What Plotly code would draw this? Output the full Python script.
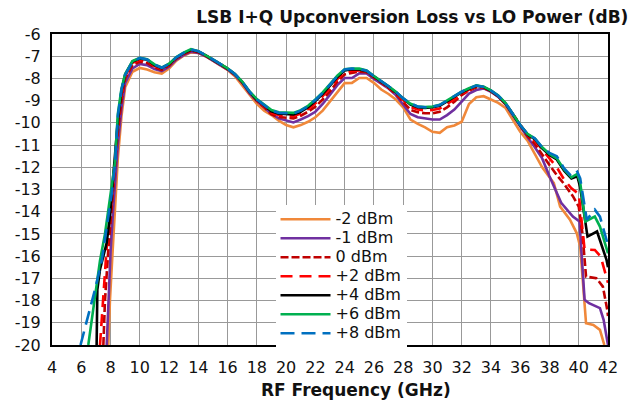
import plotly.graph_objects as go

# shared mid-band frequency grid (GHz)
FREQ_MID = [8.5, 8.75, 9, 9.5, 10, 10.5, 11, 11.5, 12, 12.5, 13, 13.5, 14, 14.5, 15, 15.5, 16,
            16.5, 17, 17.5, 18, 18.5, 19, 19.5, 20, 20.5, 21, 21.5, 22, 22.5, 23, 23.5, 24,
            24.5, 25, 25.5, 26, 26.5, 27, 27.5, 28, 28.5, 29, 29.5, 30, 30.5, 31, 31.5, 32,
            32.5, 33, 33.5, 34, 34.5, 35, 35.5, 36, 36.5, 37]

# -2 dBm
lo_f_m2 = [7.85, 7.96, 8.15, 8.3]
hi_f_m2 = [37.5, 38, 38.3, 38.73, 39.4, 39.86, 40.1, 40.5, 41.0, 41.45, 41.75]
v_m2 = [-20, -18.0, -15.7, -13.8,
        -11.6, -9.7, -8.4, -7.7, -7.53, -7.6, -7.72, -7.78, -7.55, -7.2, -6.98, -6.83, -6.85,
        -7.0, -7.2, -7.4, -7.62, -7.9, -8.3, -8.75, -9.15, -9.45, -9.65, -9.9, -10.1, -10.2,
        -10.1, -9.95, -9.75, -9.45, -9.04, -8.6, -8.21, -8.2, -7.98, -7.98, -8.2, -8.5, -8.7,
        -8.95, -9.3, -9.85, -10.05, -10.2, -10.4, -10.45, -10.2, -10.12, -9.95, -9.15, -8.85,
        -8.8, -8.95, -9.1, -9.33, -9.85, -10.4, -10.8, -11.4,
        -12.0, -12.45, -12.71, -13.77, -14.36, -14.96, -15.57, -19.02, -19.1, -19.32, -20]

# -1 dBm
lo_f_m1 = [7.74, 7.85, 8.01, 8.19, 8.42]
hi_f_m1 = [37.5, 38, 38.8, 39.6, 40.05, 40.4, 40.7, 41.45, 41.7, 42]
v_m1 = [-20, -18.0, -15.7, -13.8, -11.8,
        -11.0, -9.35, -8.2, -7.55, -7.35, -7.4, -7.58, -7.67, -7.47, -7.15, -6.95, -6.8, -6.85,
        -7.0, -7.2, -7.4, -7.6, -7.85, -8.2, -8.67, -9.02, -9.3, -9.6, -9.8, -9.9, -9.98,
        -9.85, -9.7, -9.5, -9.15, -8.73, -8.3, -7.98, -7.98, -7.77, -7.78, -8.02, -8.25, -8.45,
        -8.75, -9.15, -9.6, -9.75, -9.8, -9.85, -9.85, -9.65, -9.4, -9.05, -8.68, -8.52,
        -8.45, -8.6, -8.83, -9.17, -9.68, -10.2, -10.65, -11.1,
        -11.6, -12.4, -13.6, -14.22, -14.44, -17.97, -18.12, -18.34, -18.87, -20]

# 0 dBm
lo_f_0 = [7.51, 7.62, 7.85, 8.08, 8.3]
hi_f_0 = [37.5, 38, 38.5, 39, 39.6, 40.0, 40.25, 40.5, 41.2, 41.65, 41.95, 42]
v_0 = [-20, -18.0, -15.7, -13.9, -12.1,
       -10.4, -9.0, -8.0, -7.4, -7.25, -7.3, -7.5, -7.62, -7.42, -7.1, -6.9, -6.76, -6.82,
       -6.98, -7.18, -7.38, -7.58, -7.83, -8.18, -8.63, -9.0, -9.3, -9.62, -9.74, -9.76, -9.8,
       -9.68, -9.5, -9.27, -8.95, -8.58, -8.15, -7.82, -7.75, -7.69, -7.72, -7.95, -8.18, -8.43,
       -8.7, -9.05, -9.42, -9.52, -9.57, -9.57, -9.5, -9.3, -9.05, -8.75, -8.55, -8.4,
       -8.42, -8.58, -8.81, -9.15, -9.63, -10.15, -10.6, -10.95,
       -11.45, -11.9, -12.35, -12.75, -13.3, -13.77, -14.96, -16.92, -16.99, -17.37, -18.42, -18.7]

# +2 dBm
lo_f_p2 = [7.28, 7.51, 7.74, 8.08, 8.3]
hi_f_p2 = [37.5, 38, 38.5, 39, 39.5, 40.0, 40.4, 41.1, 41.5, 42]
v_p2 = [-20, -17.7, -15.6, -13.5, -11.8,
        -10.0, -8.75, -7.9, -7.3, -7.16, -7.22, -7.44, -7.57, -7.38, -7.07, -6.87, -6.72, -6.8,
        -6.96, -7.16, -7.36, -7.56, -7.81, -8.16, -8.62, -8.98, -9.25, -9.55, -9.65, -9.67, -9.7,
        -9.58, -9.38, -9.12, -8.8, -8.43, -8.03, -7.72, -7.66, -7.64, -7.68, -7.92, -8.15, -8.4,
        -8.66, -8.98, -9.28, -9.4, -9.44, -9.42, -9.35, -9.15, -8.93, -8.68, -8.5, -8.36,
        -8.4, -8.57, -8.8, -9.14, -9.62, -10.12, -10.55, -10.8,
        -11.2, -11.55, -12.0, -12.55, -12.95, -13.2, -15.7, -15.72, -16.02, -17.2]

# +4 dBm
lo_f_p4 = [7.05, 7.1, 7.28, 7.74, 7.96, 8.24]
hi_f_p4 = [37.5, 38, 38.5, 39, 39.5, 39.9, 40.1, 40.6, 41.25, 41.9, 42]
v_p4 = [-20, -17.5, -16.6, -15.4, -14.2, -12.1,
        -9.9, -8.55, -7.82, -7.24, -7.1, -7.16, -7.4, -7.53, -7.36, -7.06, -6.86, -6.71, -6.79,
        -6.96, -7.16, -7.36, -7.56, -7.81, -8.16, -8.61, -8.96, -9.22, -9.48, -9.59, -9.6, -9.62,
        -9.5, -9.3, -9.02, -8.7, -8.32, -7.94, -7.64, -7.59, -7.6, -7.66, -7.91, -8.13, -8.37,
        -8.62, -8.92, -9.18, -9.3, -9.33, -9.3, -9.23, -9.03, -8.83, -8.62, -8.47, -8.33,
        -8.39, -8.56, -8.79, -9.13, -9.61, -10.11, -10.52, -10.73,
        -11.15, -11.45, -11.65, -12.15, -12.5, -12.4, -12.9, -15.12, -14.89, -16.17, -16.5]

# +6 dBm
lo_f_p6 = [6.48, 6.83, 7.28, 7.62, 7.96, 8.3]
hi_f_p6 = [37.5, 38, 38.5, 39, 39.5, 39.9, 40.1, 40.45, 41.1, 41.45, 42]
v_p6 = [-20, -18.4, -16.2, -15.0, -13.5, -11.8,
        -9.6, -8.45, -7.8, -7.22, -7.07, -7.14, -7.37, -7.51, -7.34, -7.04, -6.84, -6.68, -6.77,
        -6.94, -7.14, -7.34, -7.55, -7.8, -8.14, -8.58, -8.93, -9.18, -9.42, -9.52, -9.52, -9.55,
        -9.43, -9.23, -8.95, -8.63, -8.26, -7.88, -7.59, -7.55, -7.56, -7.64, -7.89, -8.11, -8.35,
        -8.6, -8.9, -9.14, -9.26, -9.29, -9.26, -9.19, -8.99, -8.79, -8.59, -8.44, -8.31,
        -8.37, -8.54, -8.77, -9.11, -9.6, -10.1, -10.5, -10.7,
        -11.1, -11.4, -11.6, -12.1, -12.45, -12.3, -12.7, -14.44, -14.22, -14.67, -15.87]

# +8 dBm
lo_f_p8 = [5.95, 6.94, 7.4, 7.85, 8.08, 8.3]
hi_f_p8 = [37.5, 38, 38.5, 39, 39.5, 39.9, 40.1, 40.55, 41.1, 41.45, 41.9, 42]
v_p8 = [-20, -17.5, -16.2, -14.2, -13.2, -11.9,
        -9.7, -8.5, -7.85, -7.25, -7.08, -7.15, -7.38, -7.52, -7.35, -7.05, -6.85, -6.7, -6.78,
        -6.95, -7.15, -7.35, -7.55, -7.8, -8.15, -8.6, -8.95, -9.2, -9.45, -9.55, -9.55, -9.58,
        -9.45, -9.25, -8.97, -8.65, -8.28, -7.9, -7.6, -7.56, -7.57, -7.65, -7.9, -8.12, -8.35,
        -8.6, -8.9, -9.12, -9.27, -9.3, -9.27, -9.2, -9.0, -8.8, -8.6, -8.45, -8.32,
        -8.38, -8.55, -8.78, -9.12, -9.6, -10.1, -10.5, -10.7,
        -11.1, -11.35, -11.5, -12.05, -12.4, -12.2, -12.5, -14.36, -13.91, -14.22, -15.27, -15.6]

LABELS = ["-2 dBm", "-1 dBm", "0 dBm", "+2 dBm", "+4 dBm", "+6 dBm", "+8 dBm"]
X_TICKS = list(range(4, 43, 2))
Y_TICKS = list(range(-20, -5, 1))

series = [
    (lo_f_m2, hi_f_m2, v_m2, "#F0883A", "solid"),
    (lo_f_m1, hi_f_m1, v_m1, "#7030A0", "solid"),
    (lo_f_0, hi_f_0, v_0, "#C00000", "8px,3px"),
    (lo_f_p2, hi_f_p2, v_p2, "#FF0000", "12px,7px"),
    (lo_f_p4, hi_f_p4, v_p4, "#000000", "solid"),
    (lo_f_p6, hi_f_p6, v_p6, "#00B050", "solid"),
    (lo_f_p8, hi_f_p8, v_p8, "#0070C0", "14px,7px"),
]

fig = go.Figure()
for label, (lo, hi, vals, col, dash) in zip(LABELS, series):
    fx = lo + FREQ_MID + hi
    fig.add_trace(go.Scatter(x=fx, y=vals, mode="lines",
                             name='<span style="font-size:16px">' + label + '</span>',
                             line=dict(color=col, width=2.6, dash=dash)))

fig.update_layout(
    width=636, height=404,
    margin=dict(l=52, r=28, t=34, b=59),
    paper_bgcolor="white", plot_bgcolor="white",
    font=dict(family="DejaVu Sans", size=16, color="#111111"),
    title=dict(text="<b>LSB I+Q Upconversion Loss vs LO Power (dB)</b>",
               xref="container", x=0.988, xanchor="right",
               yref="container", y=0.958, yanchor="middle",
               font=dict(family="DejaVu Sans", size=17, color="#111111")),
    showlegend=True,
    legend=dict(x=0.402, y=0.451, xanchor="left", yanchor="top",
                bgcolor="white", borderwidth=0, itemwidth=50,
                font=dict(family="DejaVu Sans", size=11.5, color="#111111"),
                tracegroupgap=0),
    annotations=[dict(text="<b>RF Frequency (GHz)</b>", xref="paper", yref="paper",
                      x=0.547, y=-0.145, xanchor="center", yanchor="middle",
                      showarrow=False,
                      font=dict(family="DejaVu Sans", size=17, color="#111111"))],
)
fig.update_xaxes(range=[4, 42], tickvals=X_TICKS, ticktext=[str(t) for t in X_TICKS],
                 showgrid=True, gridcolor="#999999", gridwidth=1,
                 showline=True, linecolor="black", linewidth=2, mirror=True,
                 ticks="", zeroline=False, ticklabelstandoff=7)
fig.update_yaxes(range=[-20, -6], tickvals=Y_TICKS, ticktext=[str(t) for t in Y_TICKS],
                 showgrid=True, gridcolor="#999999", gridwidth=1,
                 showline=True, linecolor="black", linewidth=2, mirror=True,
                 ticks="", zeroline=False, ticklabelstandoff=6)

fig.write_html("out.html", config={"displayModeBar": False},
               post_script="document.body.style.margin='0px';document.body.style.padding='0px';")
